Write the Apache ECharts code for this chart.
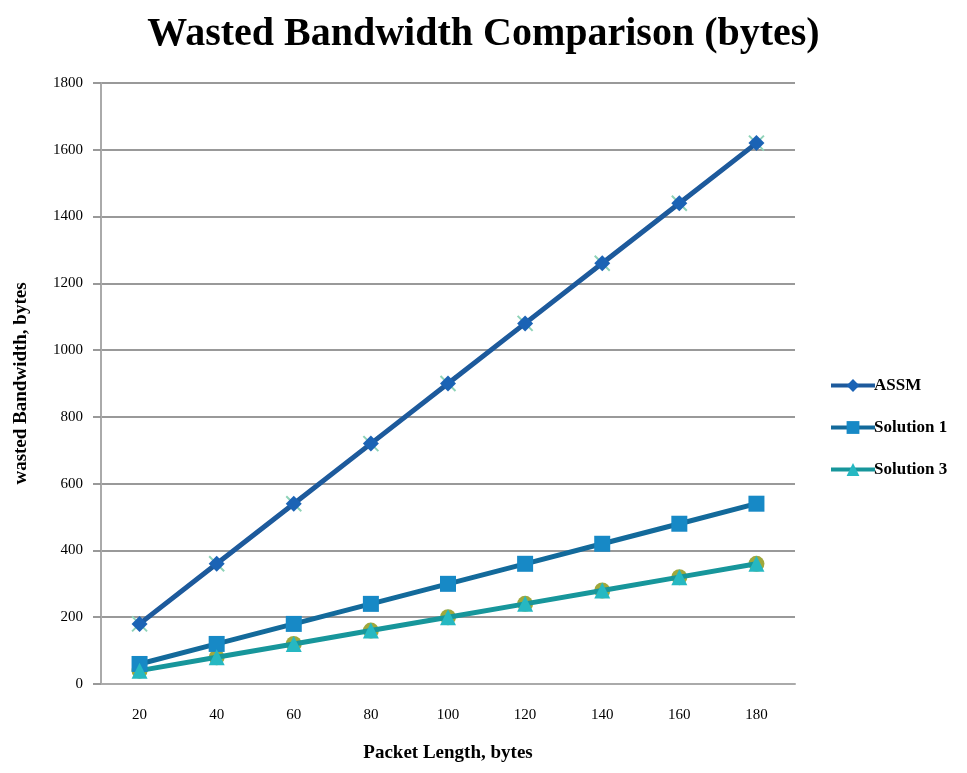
<!DOCTYPE html>
<html><head><meta charset="utf-8">
<script src="https://cdn.jsdelivr.net/npm/echarts@6/dist/echarts.min.js"></script>
<style>html,body{margin:0;padding:0;background:#fff}#c{width:967px;height:773px}</style>
</head><body><div id="c"></div>
<script>
const categories = ['20','40','60','80','100','120','140','160','180'];
const assm = [180,360,540,720,900,1080,1260,1440,1620];
const solution1 = [60,120,180,240,300,360,420,480,540];
const solution3 = [40,80,120,160,200,240,280,320,360];
const yTicks = {min:0, max:1800, interval:200};
const serif = '"Liberation Serif","DejaVu Serif",serif';
const chart = echarts.init(document.getElementById('c'));
chart.setOption({
  animation:false,
  backgroundColor:'#fff',
  title:{text:'Wasted Bandwidth Comparison (bytes)',left:'center',top:10,
    textStyle:{fontFamily:serif,fontSize:40,fontWeight:'bold',color:'#000'}},
  grid:{left:101,right:172,top:83,bottom:89},
  legend:{orient:'vertical',left:824,top:372,itemGap:25,itemWidth:44,itemHeight:16,
    data:['ASSM','Solution 1','Solution 3'],
    lineStyle:{width:4},
    textStyle:{fontFamily:serif,fontSize:17,fontWeight:'bold',color:'#000',padding:[0,0,0,-6]}},
  xAxis:{type:'category',data:categories,boundaryGap:true,
    name:'Packet Length, bytes',nameLocation:'middle',nameGap:60,
    nameTextStyle:{fontFamily:serif,fontSize:19,fontWeight:'bold',color:'#000'},
    axisLine:{lineStyle:{color:'#aaa',width:2}},axisTick:{show:false},
    axisLabel:{fontFamily:serif,fontSize:15,color:'#000',margin:24}},
  yAxis:{type:'value',min:yTicks.min,max:yTicks.max,interval:yTicks.interval,
    name:'wasted Bandwidth, bytes',nameLocation:'middle',nameGap:70,
    nameTextStyle:{fontFamily:serif,fontSize:19,fontWeight:'bold',color:'#000'},
    axisLine:{show:true,lineStyle:{color:'#aaa',width:2}},
    axisTick:{show:true,inside:false,length:8,lineStyle:{color:'#999',width:2}},
    splitLine:{lineStyle:{color:'#999',width:2}},
    axisLabel:{fontFamily:serif,fontSize:15,color:'#000',margin:18,formatter:v=>String(v)}},
  series:[
    {name:'ASSM-x',type:'line',data:assm,symbol:'path://M0,0L10,10M10,0L0,10',symbolSize:15,
      lineStyle:{width:0,opacity:0},itemStyle:{color:'none',borderColor:'#8fd3b8',borderWidth:2},z:1},
    {name:'Solution 3-o',type:'line',data:solution3,symbol:'circle',symbolSize:16,
      lineStyle:{width:0,opacity:0},itemStyle:{color:'#a0a83c'},z:1},
    {name:'ASSM',type:'line',data:assm,symbol:'diamond',symbolSize:16,
      lineStyle:{color:'#1d5a9c',width:5},itemStyle:{color:'#1b63b5'},z:3},
    {name:'Solution 1',type:'line',data:solution1,symbol:'rect',symbolSize:16,
      lineStyle:{color:'#136a9b',width:5},itemStyle:{color:'#1789c6'},z:3},
    {name:'Solution 3',type:'line',data:solution3,symbol:'triangle',symbolSize:16,
      lineStyle:{color:'#17969b',width:5},itemStyle:{color:'#26b8c2'},z:3}
  ]
});
</script></body></html>
